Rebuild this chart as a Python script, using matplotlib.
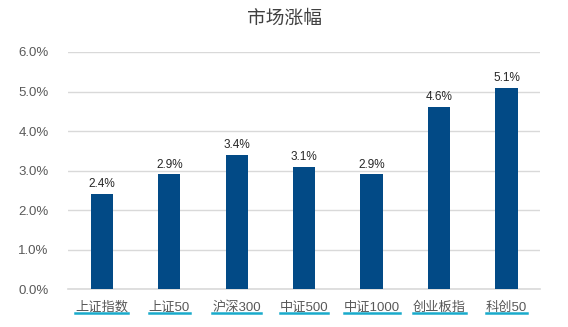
import matplotlib
matplotlib.use("Agg")
from matplotlib import pyplot as plt
from matplotlib.lines import Line2D

categories = ["上证指数", "上证50", "沪深300", "中证500", "中证1000", "创业板指", "科创50"]
values = [2.4, 2.9, 3.4, 3.1, 2.9, 4.6, 5.1]
yticks = [0, 1, 2, 3, 4, 5, 6]

plt.rcParams['font.family'] = ['Liberation Sans', 'Noto Sans CJK SC', 'DejaVu Sans']

bar_color = "#024a86"
text_color = "#595959"
grid_color = "#d9d9d9"

fig = plt.figure(figsize=(5.68, 3.27), dpi=100)
ax = fig.add_axes([0.12, 0.116, 0.831, 0.725])

x = range(len(categories))
ax.bar(x, values, width=0.33, color=bar_color, zorder=3)
for i, v in zip(x, values):
    ax.text(i, v + 0.1, f"{v:.1f}%", ha='center', va='bottom', fontsize=8.5, color="#262626")

ax.set_xlim(-0.5, len(categories) - 0.5)
ax.set_ylim(0, 6)
ax.set_yticks(yticks)
ax.set_yticklabels([f"{t:.1f}%" for t in yticks], fontsize=9.5, color=text_color)
ax.set_xticks(list(x))
ax.set_xticklabels(categories, fontsize=9.5, color=text_color)
ax.tick_params(axis='both', length=0)
ax.tick_params(axis='y', pad=14)
ax.tick_params(axis='x', pad=9)
ax.grid(axis='y', color=grid_color, linewidth=1, zorder=0)
for side in ['top', 'right', 'left']:
    ax.spines[side].set_visible(False)
ax.spines['bottom'].set_color(grid_color)
ax.spines['bottom'].set_linewidth(1.2)

fig.text(0.5, 0.942, "市场涨幅", ha='center', va='center', fontsize=13.5,
         color="#404040")

# cyan underline beneath each category label
fig.canvas.draw()
renderer = fig.canvas.get_renderer()
inv = fig.transFigure.inverted()
for lbl in ax.get_xticklabels():
    bb = lbl.get_window_extent(renderer)
    (x0, y0), (x1, _) = inv.transform([[bb.x0, bb.y0], [bb.x1, bb.y1]])
    fig.add_artist(Line2D([x0, x1], [y0 + 0.002, y0 + 0.002], transform=fig.transFigure,
                          color="#19aacb", linewidth=1.8))

fig.savefig("out.png", dpi=100)
